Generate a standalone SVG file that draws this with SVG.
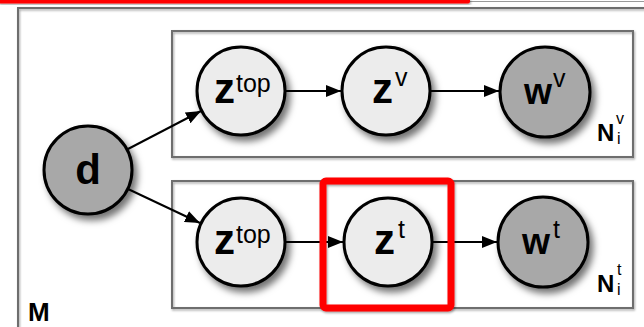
<svg xmlns="http://www.w3.org/2000/svg" width="644" height="327" viewBox="0 0 644 327">
  <defs>
    <filter id="nodeShadow" x="-30%" y="-30%" width="170%" height="170%">
      <feDropShadow dx="4" dy="5" stdDeviation="3.5" flood-color="#000" flood-opacity="0.55"/>
    </filter>
    <filter id="lineShadow" x="-5%" y="-5%" width="110%" height="120%">
      <feDropShadow dx="1" dy="1.5" stdDeviation="1" flood-color="#000" flood-opacity="0.35"/>
    </filter>
    <marker id="arrow" markerUnits="userSpaceOnUse" markerWidth="16" markerHeight="12" refX="15" refY="6" orient="auto">
      <path d="M0,0 L15,6 L0,12 Z" fill="#000"/>
    </marker>
    <style>
      .plate { fill: none; stroke: #6e6e6e; stroke-width: 2; }
      .light { fill: #ececec; stroke: #000; stroke-width: 3; }
      .dark { fill: #a8a8a8; stroke: #000; stroke-width: 3; }
      .main { font-family: "Liberation Sans", Arial, sans-serif; font-weight: bold; font-size: 42px; fill: #000; }
      .mainW { font-family: "Liberation Sans", Arial, sans-serif; font-weight: bold; font-size: 36px; fill: #000; }
      .sup { font-family: "Liberation Sans", Arial, sans-serif; font-size: 25px; fill: #000; }
      .plateLabel { font-family: "Liberation Sans", Arial, sans-serif; font-weight: bold; font-size: 24px; fill: #000; }
      .outerLabel { font-family: "Liberation Sans", Arial, sans-serif; font-weight: bold; font-size: 26px; fill: #000; }
      .plateIdx { font-family: "Liberation Sans", Arial, sans-serif; font-size: 16px; fill: #000; }
      .edge { stroke: #000; stroke-width: 2; fill: none; marker-end: url(#arrow); }
      .highlight { fill: none; stroke: #ff0000; stroke-width: 7; }
    </style>
  </defs>

  <rect width="644" height="327" fill="#fff"/>

  <!-- header strip -->
  <line x1="470" y1="1.5" x2="644" y2="1.5" stroke="#9a9a9a" stroke-width="1"/>
  <rect x="-2" y="-2" width="472" height="5.5" rx="2" fill="#ff0000" filter="url(#lineShadow)"/>

  <!-- plates -->
  <g id="plate-M">
    <rect class="plate" x="18" y="8" width="640" height="330" filter="url(#lineShadow)"/>
    <text class="outerLabel" x="28" y="321">M</text>
  </g>
  <g id="plate-Nv">
    <rect class="plate" x="172" y="31" width="461" height="126" filter="url(#lineShadow)"/>
    <text class="plateLabel" x="597" y="141">N</text>
    <text class="plateIdx" x="616" y="124">v</text>
    <text class="plateIdx" x="617" y="144">i</text>
  </g>
  <g id="plate-Nt">
    <rect class="plate" x="172" y="181" width="461" height="127" filter="url(#lineShadow)"/>
    <text class="plateLabel" x="597" y="292">N</text>
    <text class="plateIdx" x="617" y="275">t</text>
    <text class="plateIdx" x="617" y="295">i</text>
  </g>

  <!-- connectors -->
  <g id="edges">
    <line class="edge" x1="128" y1="149" x2="201" y2="111"/>
    <line class="edge" x1="128" y1="189" x2="200" y2="223"/>
    <line class="edge" x1="285" y1="91" x2="341" y2="91"/>
    <line class="edge" x1="430" y1="91" x2="499" y2="91"/>
    <line class="edge" x1="285" y1="242" x2="343" y2="242"/>
    <line class="edge" x1="432" y1="242" x2="497" y2="242"/>
  </g>

  <!-- nodes -->
  <g id="node-d">
    <circle class="dark" cx="88" cy="170" r="44" filter="url(#nodeShadow)"/>
    <text class="main" x="88" y="184" text-anchor="middle">d</text>
  </g>
  <g id="node-ztop-v">
    <circle class="light" cx="241" cy="91" r="44" filter="url(#nodeShadow)"/>
    <text class="main" x="214" y="103">z</text>
    <text class="sup" x="236" y="92">top</text>
  </g>
  <g id="node-zv">
    <circle class="light" cx="386" cy="91" r="44" filter="url(#nodeShadow)"/>
    <text class="main" x="372" y="103">z</text>
    <text class="sup" x="395" y="86">v</text>
  </g>
  <g id="node-wv">
    <circle class="dark" cx="545" cy="92" r="45" filter="url(#nodeShadow)"/>
    <text class="mainW" x="524" y="104">w</text>
    <text class="sup" x="553" y="87">v</text>
  </g>
  <g id="node-ztop-t">
    <circle class="light" cx="241" cy="242" r="44" filter="url(#nodeShadow)"/>
    <text class="main" x="214" y="254">z</text>
    <text class="sup" x="236" y="243">top</text>
  </g>
  <g id="node-zt">
    <circle class="light" cx="388" cy="242" r="44" filter="url(#nodeShadow)"/>
    <text class="main" x="374" y="254">z</text>
    <text class="sup" x="398" y="238">t</text>
  </g>
  <g id="node-wt">
    <circle class="dark" cx="543" cy="242" r="45" filter="url(#nodeShadow)"/>
    <text class="mainW" x="522" y="254">w</text>
    <text class="sup" x="553" y="238">t</text>
  </g>

  <!-- highlight frame around z^t -->
  <rect class="highlight" x="323" y="181" width="128" height="127" rx="3" filter="url(#lineShadow)"/>
</svg>
